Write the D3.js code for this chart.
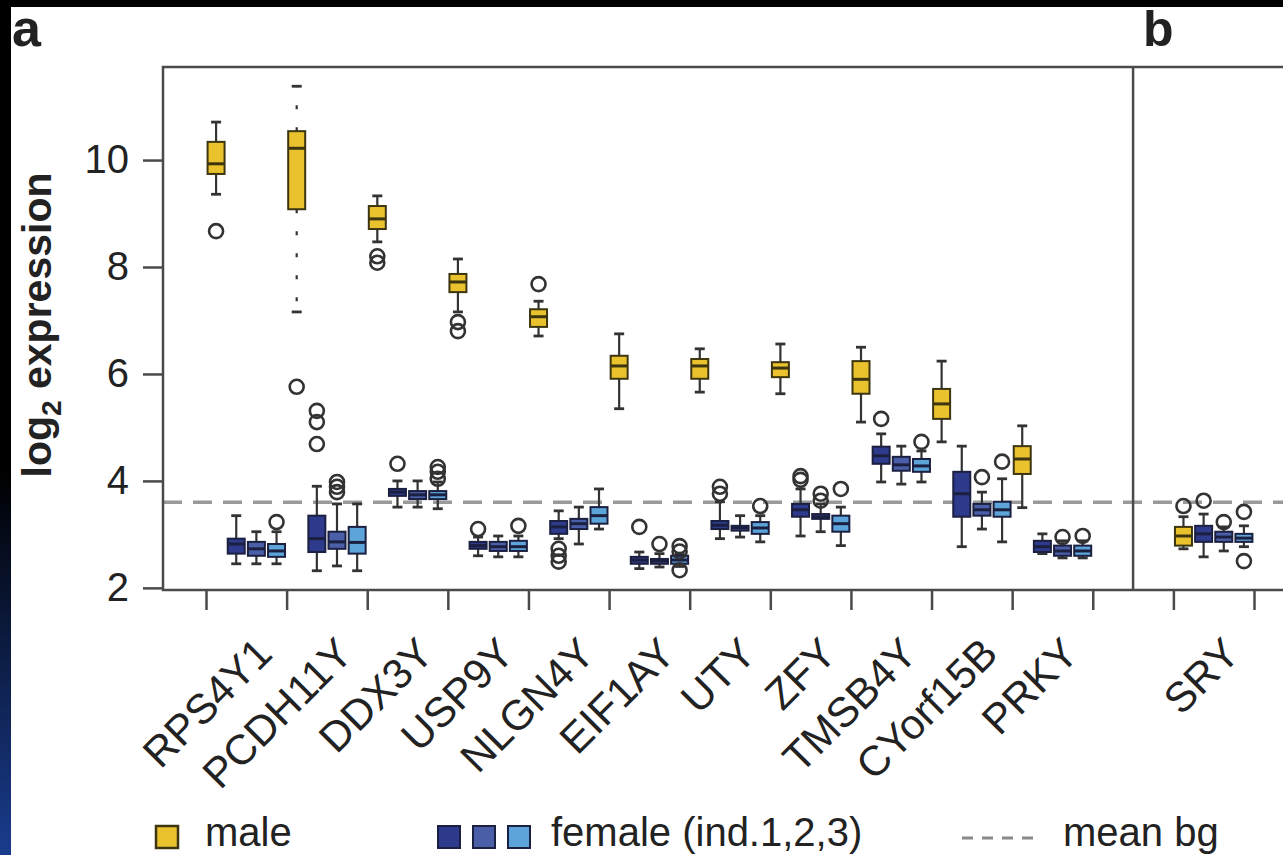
<!DOCTYPE html>
<html>
<head>
<meta charset="utf-8">
<script src="https://cdn.jsdelivr.net/npm/d3@7"></script>
<style>
  html, body { margin: 0; padding: 0; background: #000; }
  svg { display: block; }
  text { font-family: "Liberation Sans", Arial, Helvetica, sans-serif; fill: #222; }
</style>
</head>
<body>
<script>
// genes on the x axis; SRY sits in panel b after one empty slot
var genes = ["RPS4Y1","PCDH11Y","DDX3Y","USP9Y","NLGN4Y","EIF1AY","UTY","ZFY","TMSB4Y","CYorf15B","PRKY","SRY"];
var geneSlot = [0,1,2,3,4,5,6,7,8,9,10,12];

// box stats per gene: [whisker low, q1, median, q3, whisker high]
var male = [
  [9.36, 9.74, 9.93, 10.34, 10.71],
  [7.16, 9.08, 10.22, 10.54, 11.38],
  [8.47, 8.71, 8.90, 9.14, 9.33],
  [7.16, 7.53, 7.72, 7.87, 8.15],
  [6.71, 6.88, 7.07, 7.21, 7.36],
  [5.35, 5.91, 6.15, 6.34, 6.75],
  [5.66, 5.91, 6.15, 6.28, 6.47],
  [5.63, 5.94, 6.11, 6.22, 6.56],
  [5.10, 5.63, 5.90, 6.24, 6.50],
  [4.73, 5.16, 5.44, 5.72, 6.24],
  [3.50, 4.13, 4.41, 4.65, 5.03],
  [2.73, 2.79, 2.97, 3.14, 3.33]
];
var female1 = [
  [2.45, 2.64, 2.82, 2.92, 3.35],
  [2.32, 2.67, 2.92, 3.35, 3.90],
  [3.51, 3.72, 3.79, 3.85, 4.00],
  [2.60, 2.73, 2.79, 2.86, 2.95],
  [2.92, 3.01, 3.14, 3.25, 3.44],
  [2.36, 2.45, 2.52, 2.58, 2.67],
  [2.92, 3.10, 3.17, 3.25, 3.61],
  [2.97, 3.33, 3.46, 3.57, 3.85],
  [3.98, 4.32, 4.47, 4.64, 4.88],
  [2.77, 3.33, 3.76, 4.17, 4.65],
  [2.64, 2.67, 2.77, 2.88, 3.01],
  [2.58, 2.86, 3.01, 3.16, 3.38]
];
var female2 = [
  [2.45, 2.60, 2.73, 2.86, 3.05],
  [2.41, 2.73, 2.86, 3.05, 3.57],
  [3.51, 3.66, 3.74, 3.81, 4.00],
  [2.58, 2.69, 2.77, 2.86, 2.97],
  [2.82, 3.10, 3.20, 3.29, 3.51],
  [2.39, 2.45, 2.50, 2.54, 2.64],
  [2.95, 3.07, 3.12, 3.16, 3.35],
  [3.05, 3.29, 3.33, 3.38, 3.57],
  [3.94, 4.19, 4.30, 4.45, 4.65],
  [3.10, 3.35, 3.46, 3.57, 3.79],
  [2.56, 2.60, 2.69, 2.79, 2.88],
  [2.69, 2.86, 2.95, 3.05, 3.14]
];
var female3 = [
  [2.45, 2.58, 2.69, 2.82, 3.05],
  [2.32, 2.64, 2.85, 3.14, 3.57],
  [3.48, 3.66, 3.74, 3.81, 3.98],
  [2.58, 2.69, 2.77, 2.88, 2.97],
  [3.10, 3.20, 3.35, 3.51, 3.85],
  [2.40, 2.45, 2.52, 2.60, 2.63],
  [2.86, 3.01, 3.12, 3.23, 3.35],
  [2.79, 3.05, 3.20, 3.35, 3.51],
  [3.98, 4.17, 4.28, 4.41, 4.56],
  [2.86, 3.33, 3.46, 3.61, 4.04],
  [2.56, 2.60, 2.69, 2.79, 2.88],
  [2.77, 2.86, 2.93, 3.01, 3.16]
];

// outliers per gene
var maleOut    = [[8.67],[5.76],[8.20,8.08],[6.97,6.80],[7.68],[],[],[],[],[],[],[3.53]];
var female1Out = [[],[5.31,5.10,4.69],[4.32],[3.10],[2.73,2.60,2.49],[3.14],[3.89,3.76],[4.09,4.02],[5.16],[],[],[3.63]];
var female2Out = [[],[3.98,3.89,3.79],[],[],[],[2.82],[],[3.76,3.63],[],[4.07],[2.95],[3.23]];
var female3Out = [[3.23],[],[4.26,4.17,4.04],[3.16],[],[2.78,2.68,2.33],[3.53],[3.85],[4.73],[4.36],[2.97],[3.42,2.50]];

var meanBg = 3.6;
var yTicks = [2, 4, 6, 8, 10];

var seriesColors = ["#E9C22E", "#2E3A8C", "#4B5FA9", "#5CA4DA"];
var seriesStroke = ["#3d3510", "#1c2040", "#1c2040", "#1c2040"];

var W = 1283, H = 855;
var frameL = 163, frameT = 67, frameB = 590;
var fs = 42;

var svg = d3.select("body").append("svg")
    .attr("width", W)
    .attr("height", H);

// slide background: black top, black-to-blue left strip, white page
var defs = svg.append("defs");
var grad = defs.append("linearGradient")
    .attr("id", "strip")
    .attr("x1", 0).attr("y1", 0).attr("x2", 0).attr("y2", 1);
grad.append("stop").attr("offset", "0").attr("stop-color", "#000");
grad.append("stop").attr("offset", "0.55").attr("stop-color", "#000");
grad.append("stop").attr("offset", "1").attr("stop-color", "#1a3c8e");

svg.append("rect").attr("width", W).attr("height", H).attr("fill", "#000");
svg.append("rect").attr("x", 0).attr("y", 0).attr("width", 11).attr("height", H).attr("fill", "url(#strip)");
svg.append("rect").attr("x", 11).attr("y", 7).attr("width", W - 11).attr("height", H - 7).attr("fill", "#fff");

var y = d3.scaleLinear().domain([1.96, 11.74]).range([frameB, frameT]);
// box positions: 4 per gene slot
var x = d3.scaleLinear().domain([-0.5, 51.5]).range([206, 1254]);
var boxW = 17;

// build flat box list
var allSeries = [male, female1, female2, female3];
var allOut = [maleOut, female1Out, female2Out, female3Out];
var boxes = [];
genes.forEach(function(g, gi){
    for (var k = 0; k < 4; k++){
        var s = allSeries[k][gi];
        boxes.push({
            gene: g,
            series: k,
            pos: geneSlot[gi] * 4 + k,
            lo: s[0], q1: s[1], med: s[2], q3: s[3], hi: s[4],
            out: allOut[k][gi]
        });
    }
});

// mean background line
svg.append("line")
    .attr("x1", frameL).attr("x2", W)
    .attr("y1", y(meanBg)).attr("y2", y(meanBg))
    .attr("stroke", "#9a9a9a")
    .attr("stroke-width", 3.5)
    .attr("stroke-dasharray", "19,11");

var gb = svg.append("g").selectAll("g")
    .data(boxes)
    .enter()
    .append("g");

var dotted = function(a, b){
    return Math.abs(y(a) - y(b)) > 40 ? "4,18" : null;
};

// whiskers
gb.append("line")
    .attr("x1", function(d){return x(d.pos);})
    .attr("x2", function(d){return x(d.pos);})
    .attr("y1", function(d){return y(d.q3);})
    .attr("y2", function(d){return y(d.hi);})
    .attr("stroke", "#333").attr("stroke-width", 2.2)
    .attr("stroke-dasharray", function(d){return dotted(d.q3, d.hi);});
gb.append("line")
    .attr("x1", function(d){return x(d.pos);})
    .attr("x2", function(d){return x(d.pos);})
    .attr("y1", function(d){return y(d.q1);})
    .attr("y2", function(d){return y(d.lo);})
    .attr("stroke", "#333").attr("stroke-width", 2.2)
    .attr("stroke-dasharray", function(d){return dotted(d.q1, d.lo);});
// staples
["lo", "hi"].forEach(function(key){
    gb.append("line")
        .attr("x1", function(d){return x(d.pos) - 5;})
        .attr("x2", function(d){return x(d.pos) + 5;})
        .attr("y1", function(d){return y(d[key]);})
        .attr("y2", function(d){return y(d[key]);})
        .attr("stroke", "#333").attr("stroke-width", 2.8);
});

// boxes
gb.append("rect")
    .attr("x", function(d){return x(d.pos) - boxW / 2;})
    .attr("y", function(d){return y(d.q3);})
    .attr("width", boxW)
    .attr("height", function(d){return Math.max(2, y(d.q1) - y(d.q3));})
    .attr("fill", function(d){return seriesColors[d.series];})
    .attr("stroke", function(d){return seriesStroke[d.series];})
    .attr("stroke-width", 2);

// medians
gb.append("line")
    .attr("x1", function(d){return x(d.pos) - boxW / 2;})
    .attr("x2", function(d){return x(d.pos) + boxW / 2;})
    .attr("y1", function(d){return y(d.med);})
    .attr("y2", function(d){return y(d.med);})
    .attr("stroke", function(d){return seriesStroke[d.series];})
    .attr("stroke-width", 3);

// outliers
gb.selectAll("circle")
    .data(function(d){return d.out.map(function(v){return {pos: d.pos, v: v};});})
    .enter()
    .append("circle")
    .attr("cx", function(d){return x(d.pos);})
    .attr("cy", function(d){return y(d.v);})
    .attr("r", 7)
    .attr("fill", "none")
    .attr("stroke", "#333")
    .attr("stroke-width", 2.6);

// frame
var frame = svg.append("g").attr("stroke", "#4a4a4a").attr("stroke-width", 2.5).attr("fill", "none");
frame.append("path").attr("d", "M" + W + "," + frameT + "H" + frameL + "V" + frameB + "H" + W);
frame.append("line")
    .attr("x1", x(45.5)).attr("x2", x(45.5))
    .attr("y1", frameT).attr("y2", frameB);

// y axis
var yAxis = svg.append("g")
    .attr("transform", "translate(" + frameL + ",0)")
    .call(d3.axisLeft(y).tickValues(yTicks).tickSize(20).tickPadding(14));
yAxis.select(".domain").remove();
yAxis.selectAll(".tick line").attr("stroke", "#4a4a4a").attr("stroke-width", 2.5);
yAxis.selectAll(".tick text")
    .attr("font-size", 40)
    .attr("font-family", "Liberation Sans, Arial, sans-serif")
    .attr("fill", "#222");

// x ticks at gene-group boundaries
var xTickVals = [];
for (var i = 0; i <= 11; i++){ xTickVals.push(i * 4 - 0.5); }
xTickVals.push(47.5, 51.5);
var xAxis = svg.append("g")
    .attr("transform", "translate(0," + frameB + ")")
    .call(d3.axisBottom(x).tickValues(xTickVals).tickSize(20).tickFormat(""));
xAxis.select(".domain").remove();
xAxis.selectAll(".tick line").attr("stroke", "#4a4a4a").attr("stroke-width", 2.5);

// gene labels, rotated 45 degrees
svg.append("g").selectAll("text")
    .data(genes)
    .enter()
    .append("text")
    .attr("transform", function(d, i){
        var cx = x(geneSlot[i] * 4 + 1.5) + 28;
        return "translate(" + cx + ",656) rotate(-45)";
    })
    .attr("text-anchor", "end")
    .attr("font-size", fs)
    .text(function(d){return d;});

// y label
var yl = svg.append("text")
    .attr("transform", "translate(51,325) rotate(-90)")
    .attr("text-anchor", "middle")
    .attr("font-size", 41)
    .attr("font-weight", "bold");
yl.append("tspan").text("log");
yl.append("tspan").attr("font-size", 28).attr("dy", 10).text("2");
yl.append("tspan").attr("dy", -10).text(" expression");

// panel letters
svg.append("text").attr("x", 12).attr("y", 46).attr("font-size", 52).attr("font-weight", "bold").text("a");
svg.append("text").attr("x", 1143).attr("y", 46).attr("font-size", 50).attr("font-weight", "bold").text("b");

// legend
var legY = 836;
var legFs = 40;
var lg = svg.append("g");
lg.append("rect").attr("x", 156).attr("y", legY - 10).attr("width", 22).attr("height", 22)
    .attr("fill", seriesColors[0]).attr("stroke", seriesStroke[0]).attr("stroke-width", 2.5);
lg.append("text").attr("x", 205).attr("y", legY + 10).attr("font-size", legFs).text("male");
[1, 2, 3].forEach(function(k, j){
    lg.append("rect").attr("x", 438 + j * 35).attr("y", legY - 10).attr("width", 22).attr("height", 22)
        .attr("fill", seriesColors[k]).attr("stroke", seriesStroke[k]).attr("stroke-width", 2);
});
lg.append("text").attr("x", 551).attr("y", legY + 10).attr("font-size", legFs).text("female (ind.1,2,3)");
lg.append("line").attr("x1", 962).attr("x2", 1040).attr("y1", legY + 2).attr("y2", legY + 2)
    .attr("stroke", "#8a8a8a").attr("stroke-width", 3).attr("stroke-dasharray", "11,9");
lg.append("text").attr("x", 1063).attr("y", legY + 10).attr("font-size", legFs).text("mean bg");
</script>
</body>
</html>
